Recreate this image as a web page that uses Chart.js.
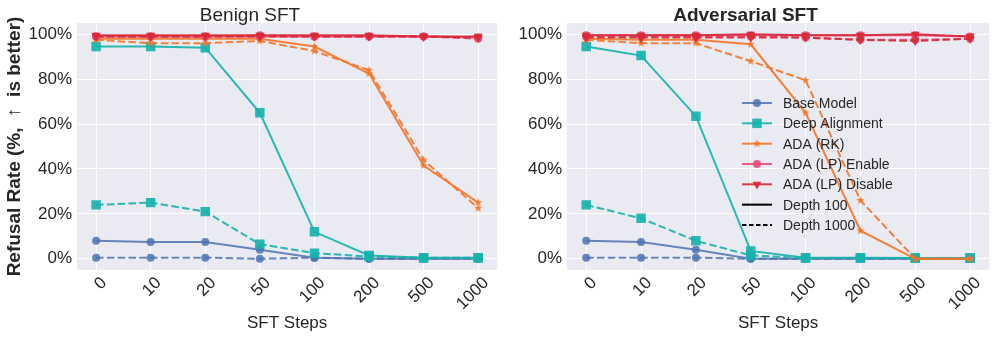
<!DOCTYPE html>
<html>
<head>
<meta charset="utf-8">
<script src="https://cdn.jsdelivr.net/npm/chart.js@4.4.1/dist/chart.umd.min.js"></script>
<style>
body { margin: 0; background: #fff; }
#wrap { position: relative; width: 996px; height: 339px; }
canvas { position: absolute; top: 0; }
#benignChart { left: 0; }
#advChart { left: 500px; }
</style>
</head>
<body>
<div id="wrap">
<canvas id="benignChart" width="504" height="339"></canvas>
<canvas id="advChart" width="496" height="339"></canvas>
</div>
<script>
const STEP_LABELS = ["0", "10", "20", "50", "100", "200", "500", "1000"];
const Y_TICK_VALUES = [0, 20, 40, 60, 80, 100];

// Benign SFT
const benignBase100 = [8, 7.5, 7.5, 4, 0.5, 0, 0, 0];
const benignBase1000 = [0.5, 0.5, 0.5, 0, 0.5, 0, 0, 0];
const benignDeep100 = [94.5, 94.5, 94, 65, 12, 1.5, 0.5, 0.5];
const benignDeep1000 = [24, 25, 21, 6.5, 2.5, 1, 0.5, 0.5];
const benignRK100 = [98, 98, 98, 98, 94.5, 82.5, 41.5, 25];
const benignRK1000 = [97.5, 96, 96, 97, 92.5, 84, 44, 22.5];
const benignEnable100 = [99, 99, 99, 99, 99, 99, 99, 98.5];
const benignEnable1000 = [99, 99, 99, 99.5, 99, 99, 99, 98];
const benignDisable100 = [99.5, 99.5, 99.5, 99.5, 99.5, 99.5, 99, 99];
const benignDisable1000 = [99, 99, 99, 99, 99, 99, 99, 98.5];

// Adversarial SFT
const advBase100 = [8, 7.5, 4, 0, 0, 0, 0, 0];
const advBase1000 = [0.5, 0.5, 0.5, 0, 0, 0, 0, 0];
const advDeep100 = [94.5, 90.5, 63.5, 3.5, 0.5, 0.5, 0.3, 0.3];
const advDeep1000 = [24, 18, 8, 1.5, 0.3, 0.3, 0.3, 0.3];
const advRK100 = [98, 97.5, 97.5, 95.5, 65, 12.5, 0, 0];
const advRK1000 = [97.5, 96, 96, 88, 79.5, 26, 0, 0];
const advEnable100 = [99.5, 99.5, 99.5, 99.5, 99.5, 99.5, 99.5, 99];
const advEnable1000 = [99, 99, 99, 99, 98.5, 97.5, 97.5, 98];
const advDisable100 = [99.5, 99.5, 99.5, 100, 99.5, 99.5, 100, 99];
const advDisable1000 = [98.5, 98.5, 98.5, 98.5, 98.5, 97.5, 97, 98];

const METHOD_NAMES = ["Base Model", "Deep Alignment", "ADA (RK)", "ADA (LP) Enable", "ADA (LP) Disable"];
const DEPTH_NAMES = ["Depth 100", "Depth 1000"];

const TEXT_COLOR = "#262626";
const FONT_FAMILY = "'Liberation Sans', Arial, sans-serif";
const DASH = [7.5, 3.3];

function makeStar(color, r)
{
    const c = document.createElement("canvas");
    const size = Math.ceil(r * 2 + 2);
    c.width = size;
    c.height = size;
    const ctx = c.getContext("2d");
    const cx = size / 2;
    const cy = size / 2;
    ctx.beginPath();
    for (let i = 0; i < 10; i++)
    {
        const rad = i % 2 === 0 ? r : r * 0.42;
        const a = -Math.PI / 2 + i * Math.PI / 5;
        const px = cx + rad * Math.cos(a);
        const py = cy + rad * Math.sin(a);
        if (i === 0)
        {
            ctx.moveTo(px, py);
        }
        else
        {
            ctx.lineTo(px, py);
        }
    }
    ctx.closePath();
    ctx.fillStyle = color;
    ctx.fill();
    return c;
}

const methodStyles =
[
    { color: "rgba(76,114,176,0.85)", pointStyle: "circle", radius: 4, rotation: 0 },
    { color: "rgba(23,178,172,0.92)", pointStyle: "rect", radius: 6.7, rotation: 0 },
    { color: "rgba(244,118,42,0.92)", pointStyle: makeStar("rgba(244,118,42,0.95)", 4.2), radius: 4, rotation: 0 },
    { color: "rgba(232,78,122,0.9)", pointStyle: "circle", radius: 4, rotation: 0 },
    { color: "rgba(216,40,54,0.9)", pointStyle: "triangle", radius: 5.2, rotation: 180 }
];

function buildDatasets(seriesPairs)
{
    const datasets = [];
    let k = 0;

    seriesPairs.forEach((pair, m) =>
    {
        const style = methodStyles[m];

        pair.forEach((values, d) =>
        {
            datasets.push(
            {
                label: METHOD_NAMES[m] + " " + DEPTH_NAMES[d],
                data: values.map((v, i) =>
                {
                    return { x: i, y: v };
                }),
                borderColor: style.color,
                backgroundColor: style.color,
                pointBackgroundColor: style.color,
                pointBorderWidth: 0,
                pointStyle: style.pointStyle,
                pointRadius: style.radius,
                pointRotation: style.rotation,
                borderWidth: 2,
                borderDash: d === 1 ? DASH : [],
                tension: 0,
                order: -k
            });
            k++;
        });
    });

    return datasets;
}

const plotBackground =
{
    id: "plotBackground",
    beforeDraw(chart)
    {
        const { ctx, chartArea } = chart;
        ctx.save();
        ctx.fillStyle = "#EAEAF2";
        ctx.fillRect(chartArea.left, chartArea.top, chartArea.width, chartArea.height);
        ctx.restore();
    }
};

const insideLegend =
{
    id: "insideLegend",
    afterDraw(chart, args, opts)
    {
        if (!opts || !opts.show)
        {
            return;
        }

        const ctx = chart.ctx;
        const x0 = opts.x;
        const y0 = opts.y;
        const rowH = opts.rowHeight;
        const entries = [];

        METHOD_NAMES.forEach((name, m) =>
        {
            entries.push({ text: name, style: methodStyles[m], dash: [] });
        });
        entries.push({ text: DEPTH_NAMES[0], style: { color: "#000" }, dash: [] });
        entries.push({ text: DEPTH_NAMES[1], style: { color: "#000" }, dash: [4.5, 2.5] });

        ctx.save();
        entries.forEach((entry, i) =>
        {
            const y = y0 + i * rowH;

            ctx.beginPath();
            ctx.setLineDash(entry.dash);
            ctx.strokeStyle = entry.style.color;
            ctx.lineWidth = 2;
            ctx.moveTo(x0, y);
            ctx.lineTo(x0 + 30, y);
            ctx.stroke();
            ctx.setLineDash([]);

            if (entry.style.pointStyle && Chart.helpers && Chart.helpers.drawPoint)
            {
                ctx.fillStyle = entry.style.color;
                ctx.strokeStyle = entry.style.color;
                Chart.helpers.drawPoint(ctx,
                {
                    pointStyle: entry.style.pointStyle,
                    radius: entry.style.radius,
                    rotation: entry.style.rotation,
                    borderWidth: 0
                }, x0 + 15, y);
            }

            ctx.fillStyle = TEXT_COLOR;
            ctx.font = "14px " + FONT_FAMILY;
            ctx.textAlign = "left";
            ctx.textBaseline = "middle";
            ctx.fillText(entry.text, x0 + 41, y + 1);
        });
        ctx.restore();
    }
};

function createPanel(canvasId, title, bold, seriesPairs, yWidth, rightPad, showYTitle, legend)
{
    const canvas = document.getElementById(canvasId);

    return new Chart(canvas.getContext("2d"),
    {
        type: "line",
        data:
        {
            datasets: buildDatasets(seriesPairs)
        },
        options:
        {
            responsive: false,
            animation: false,
            devicePixelRatio: 1,
            layout:
            {
                padding: { left: 0, right: rightPad, top: 0, bottom: 0 }
            },
            plugins:
            {
                legend: { display: false },
                tooltip: { enabled: false },
                title:
                {
                    display: true,
                    text: title,
                    color: TEXT_COLOR,
                    font: { family: FONT_FAMILY, size: 19, weight: bold ? "bold" : "normal", lineHeight: 1.0 },
                    padding: { top: 6, bottom: -2 }
                },
                insideLegend: legend
            },
            scales:
            {
                x:
                {
                    type: "linear",
                    min: -0.35,
                    max: 7.35,
                    afterBuildTicks(scale)
                    {
                        scale.ticks = STEP_LABELS.map((label, i) =>
                        {
                            return { value: i };
                        });
                    },
                    afterFit(scale)
                    {
                        scale.height = 69;
                    },
                    ticks:
                    {
                        callback(value)
                        {
                            return STEP_LABELS[value];
                        },
                        autoSkip: false,
                        minRotation: 45,
                        maxRotation: 45,
                        color: TEXT_COLOR,
                        font: { family: FONT_FAMILY, size: 17 },
                        padding: 3,
                        labelOffset: 8
                    },
                    grid: { color: "rgba(255,255,255,0.95)", lineWidth: 1, drawTicks: false },
                    border: { display: false },
                    title:
                    {
                        display: true,
                        text: "SFT Steps",
                        color: TEXT_COLOR,
                        font: { family: FONT_FAMILY, size: 17 },
                        padding: { top: 0, bottom: 5 }
                    }
                },
                y:
                {
                    min: -5,
                    max: 105,
                    afterBuildTicks(scale)
                    {
                        scale.ticks = Y_TICK_VALUES.map((v) =>
                        {
                            return { value: v };
                        });
                    },
                    afterFit(scale)
                    {
                        scale.width = yWidth;
                    },
                    ticks:
                    {
                        callback(value)
                        {
                            return value + "%";
                        },
                        color: TEXT_COLOR,
                        font: { family: FONT_FAMILY, size: 17 },
                        padding: 5
                    },
                    grid: { color: "rgba(255,255,255,0.95)", lineWidth: 1, drawTicks: false },
                    border: { display: false },
                    title:
                    {
                        display: showYTitle,
                        text: "Refusal Rate (%,  \u2191  is better)",
                        color: TEXT_COLOR,
                        font: { family: FONT_FAMILY, size: 19, weight: "bold" },
                        padding: { top: 3, bottom: 0 }
                    }
                }
            }
        },
        plugins: [plotBackground, insideLegend]
    });
}

window.addEventListener("load", () =>
{
    createPanel("benignChart", "Benign SFT", false,
    [
        [benignBase100, benignBase1000],
        [benignDeep100, benignDeep1000],
        [benignRK100, benignRK1000],
        [benignEnable100, benignEnable1000],
        [benignDisable100, benignDisable1000]
    ], 77, 4, true, { show: false });

    createPanel("advChart", "Adversarial SFT", true,
    [
        [advBase100, advBase1000],
        [advDeep100, advDeep1000],
        [advRK100, advRK1000],
        [advEnable100, advEnable1000],
        [advDisable100, advDisable1000]
    ], 67, 5, false, { show: true, x: 242, y: 103, rowHeight: 20.33 });
});
</script>
</body>
</html>
